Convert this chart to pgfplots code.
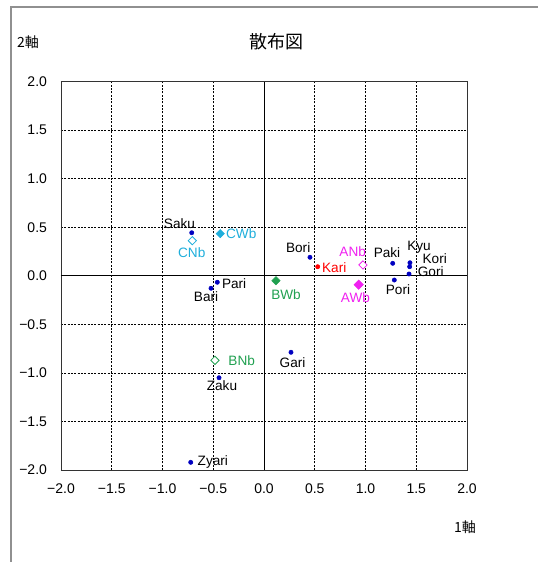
\documentclass[border=0pt]{standalone}
\usepackage{fontspec}
\setmainfont{Liberation Sans}
\newfontfamily\jp{Noto Sans CJK JP}
\usepackage{pgfplots}
\pgfplotsset{compat=1.18}
\definecolor{navy}{HTML}{0000C0}
\definecolor{cyanA}{HTML}{1EAEDB}
\definecolor{greenA}{HTML}{20A050}
\definecolor{magA}{HTML}{F020F0}
\definecolor{redA}{HTML}{FF0000}
\definecolor{frame}{HTML}{909090}
\begin{document}
\begin{tikzpicture}
\useasboundingbox (0,0) rectangle (402.75pt,421.5pt);
\draw[frame, line width=1.1pt] (8.25pt,-1pt) -- (8.25pt,416.25pt) -- (404pt,416.25pt);
\node[font=\jp\fontsize{13.5}{15}\selectfont] at (207pt,390pt) {散布図};
\node[font=\jp\fontsize{10.5}{12}\selectfont] at (21pt,390pt) {2軸};
\node[font=\jp\fontsize{10.5}{12}\selectfont] at (348.75pt,26.25pt) {1軸};
\begin{axis}[
  at={(45.75pt,69pt)}, anchor=south west,
  scale only axis, width=304.5pt, height=291.375pt,
  xmin=-2, xmax=2, ymin=-2, ymax=2,
  xtick={-2,-1.5,-1,-0.5,0,0.5,1,1.5,2},
  ytick={-2,-1.5,-1,-0.5,0,0.5,1,1.5,2},
  xticklabels={−2.0,−1.5,−1.0,−0.5,0.0,0.5,1.0,1.5,2.0},
  yticklabels={−2.0,−1.5,−1.0,−0.5,0.0,0.5,1.0,1.5,2.0},
  major tick length=0pt,
  tick label style={font=\fontsize{10.5}{12}\selectfont},
  xticklabel style={yshift=-7pt},
  yticklabel style={xshift=-7pt},
  grid=major,
  grid style={black, dash pattern=on 1.4pt off 1.1pt, line width=0.5pt},
  axis line style={black!80, line width=0.7pt},
  clip=false,
]
\draw[black, line width=0.6pt] (axis cs:0,-2) -- (axis cs:0,2);
\draw[black, line width=0.6pt] (axis cs:-2,0) -- (axis cs:2,0);

% navy dots
\addplot[only marks, mark=*, mark size=1.6pt, color=navy] table {
x y
-0.712 0.443
0.453 0.190
-0.460 -0.067
-0.522 -0.129
1.268 0.128
1.438 0.134
1.435 0.093
1.429 0.018
1.284 -0.044
0.266 -0.788
-0.443 -1.050
-0.722 -1.921
};
% red dot
\addplot[only marks, mark=*, mark size=1.6pt, color=redA] table {
x y
0.529 0.093
};
% filled diamonds
\addplot[only marks, mark=square*, mark size=2.2pt, mark options={rotate=45}, color=cyanA] table {
x y
-0.431 0.433
};
\addplot[only marks, mark=square*, mark size=2.2pt, mark options={rotate=45}, color=greenA] table {
x y
0.118 -0.051
};
\addplot[only marks, mark=square*, mark size=2.5pt, mark options={rotate=45}, color=magA] table {
x y
0.933 -0.092
};
% hollow diamonds
\addplot[only marks, mark=square*, mark size=2.2pt, mark options={rotate=45, fill=white, draw=cyanA, line width=0.6pt}] table {
x y
-0.706 0.361
};
\addplot[only marks, mark=square*, mark size=2.2pt, mark options={rotate=45, fill=white, draw=greenA, line width=0.6pt}] table {
x y
-0.483 -0.871
};
\addplot[only marks, mark=square*, mark size=2.2pt, mark options={rotate=45, fill=white, draw=magA, line width=0.6pt}] table {
x y
0.975 0.111
};

% labels
\begin{scope}[every node/.style={font=\fontsize{10.2}{12}\selectfont, inner sep=0pt}]
\node at (axis cs:-0.833,0.533) {Saku};
\node[text=cyanA] at (axis cs:-0.712,0.238) {CNb};
\node[text=cyanA] at (axis cs:-0.224,0.433) {CWb};
\node at (axis cs:0.337,0.289) {Bori};
\node[text=redA] at (axis cs:0.692,0.083) {Kari};
\node at (axis cs:-0.294,-0.078) {Pari};
\node at (axis cs:-0.571,-0.216) {Bari};
\node[text=greenA] at (axis cs:0.217,-0.198) {BWb};
\node[text=magA] at (axis cs:0.874,0.248) {ANb};
\node[text=magA] at (axis cs:0.901,-0.226) {AWb};
\node at (axis cs:1.212,0.242) {Paki};
\node at (axis cs:1.527,0.290) {Kyu};
\node at (axis cs:1.682,0.172) {Kori};
\node at (axis cs:1.643,0.045) {Gori};
\node at (axis cs:1.320,-0.147) {Pori};
\node[text=greenA] at (axis cs:-0.220,-0.878) {BNb};
\node at (axis cs:0.281,-0.895) {Gari};
\node at (axis cs:-0.414,-1.132) {Zaku};
\node at (axis cs:-0.504,-1.921) {Zyari};
\end{scope}
\end{axis}
\end{tikzpicture}
\end{document}
